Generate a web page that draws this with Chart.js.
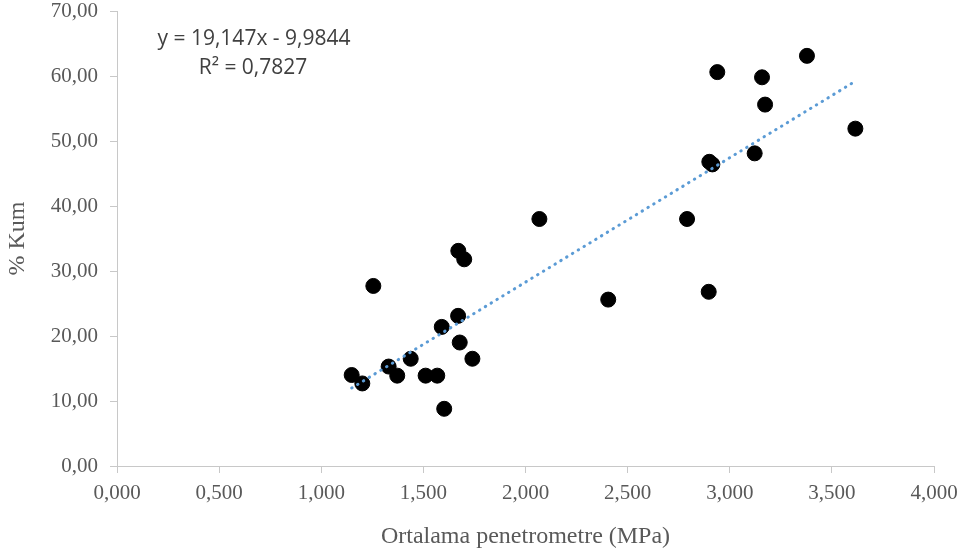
<!DOCTYPE html>
<html lang="tr">
<head>
    <meta charset="UTF-8">
    <title>% Kum - Ortalama penetrometre</title>
    <script src="https://cdn.jsdelivr.net/npm/chart.js@4.4.0/dist/chart.umd.min.js"></script>
    <style>
        body {
            margin: 0;
            background-color: white;
        }
        .chart-container {
            position: relative;
            width: 966px;
            height: 554px;
        }
    </style>
</head>
<body>
    <div class="chart-container">
        <canvas id="kumChart"></canvas>
    </div>

    <script>
        // okunan degerler (MPa, % kum)
        const penetrometre = [1.149, 1.201, 1.255, 1.330, 1.372, 1.438, 1.511, 1.568, 1.590, 1.602,
                              1.670, 1.671, 1.678, 1.700, 1.740, 2.068, 2.405, 2.791, 2.897, 2.900,
                              2.915, 2.939, 3.122, 3.158, 3.173, 3.378, 3.615];
        const kum = [14.0, 12.7, 27.7, 15.3, 13.9, 16.5, 13.9, 13.9, 21.4, 8.8,
                     23.1, 33.1, 19.0, 31.8, 16.5, 38.0, 25.6, 38.0, 26.8, 46.8,
                     46.4, 60.6, 48.1, 59.8, 55.6, 63.1, 51.9];

        // dogrusal egilim cizgisi uclari
        const trendX = [1.149, 3.615];
        const trendY = [12.0, 59.2];
        const equationLines = ['y = 19,147x - 9,9844', 'R² = 0,7827'];

        const xTickLabels = ['0,000', '0,500', '1,000', '1,500', '2,000', '2,500', '3,000', '3,500', '4,000'];
        const yTickLabels = ['0,00', '10,00', '20,00', '30,00', '40,00', '50,00', '60,00', '70,00'];

        const axisColor = '#c8c8c8';
        const textColor = '#595959';
        const serif = '"Liberation Serif", "Times New Roman", serif';

        const equationPlugin = {
            id: 'equation',
            afterDraw(chart) {
                const ctx = chart.ctx;
                ctx.save();
                ctx.font = '21px "Open Sans", sans-serif';
                ctx.fillStyle = '#404040';
                ctx.textAlign = 'center';
                ctx.textBaseline = 'middle';
                ctx.fillText(equationLines[0], 254, 39);
                ctx.fillText(equationLines[1], 253, 68);
                ctx.restore();
            }
        };

        const ctx = document.getElementById('kumChart').getContext('2d');
        new Chart(ctx, {
            type: 'scatter',
            data: {
                datasets: [{
                    type: 'line',
                    data: trendX.map((x, i) => ({ x: x, y: trendY[i] })),
                    borderColor: '#5b9bd5',
                    borderWidth: 3,
                    borderDash: [0.5, 6.3],
                    borderCapStyle: 'round',
                    pointRadius: 0,
                    fill: false,
                    order: 0
                }, {
                    data: penetrometre.map((x, i) => ({ x: x, y: kum[i] })),
                    backgroundColor: '#000000',
                    borderColor: '#000000',
                    pointRadius: 7.5,
                    pointHoverRadius: 7.5,
                    order: 1
                }]
            },
            options: {
                responsive: true,
                maintainAspectRatio: false,
                animation: false,
                layout: {
                    padding: { top: 11, right: 32, left: 0, bottom: 0 }
                },
                plugins: {
                    legend: { display: false },
                    tooltip: { enabled: false }
                },
                scales: {
                    x: {
                        type: 'linear',
                        min: 0,
                        max: 4,
                        afterFit(scale) {
                            scale.height = 88;
                            scale.paddingLeft = 0;
                            scale.paddingRight = 0;
                        },
                        ticks: {
                            stepSize: 0.5,
                            padding: 8,
                            color: textColor,
                            font: { family: serif, size: 21 },
                            callback: (value, index) => xTickLabels[index]
                        },
                        grid: {
                            drawOnChartArea: false,
                            tickLength: 7,
                            color: axisColor
                        },
                        border: { color: axisColor },
                        title: {
                            display: true,
                            text: 'Ortalama penetrometre (MPa)',
                            color: textColor,
                            font: { family: serif, size: 24 },
                            padding: { top: 0, bottom: 3 }
                        }
                    },
                    y: {
                        min: 0,
                        max: 70,
                        afterFit(scale) {
                            scale.width = 117;
                            scale.paddingTop = 0;
                            scale.paddingBottom = 0;
                        },
                        ticks: {
                            stepSize: 10,
                            padding: 12,
                            color: textColor,
                            font: { family: serif, size: 21 },
                            callback: (value, index) => yTickLabels[index]
                        },
                        grid: {
                            drawOnChartArea: false,
                            tickLength: 7,
                            color: axisColor
                        },
                        border: { color: axisColor },
                        title: {
                            display: true,
                            text: '% Kum',
                            color: textColor,
                            font: { family: serif, size: 24 },
                            padding: { top: 3, bottom: 0 }
                        }
                    }
                }
            },
            plugins: [equationPlugin]
        });
    </script>
</body>
</html>
